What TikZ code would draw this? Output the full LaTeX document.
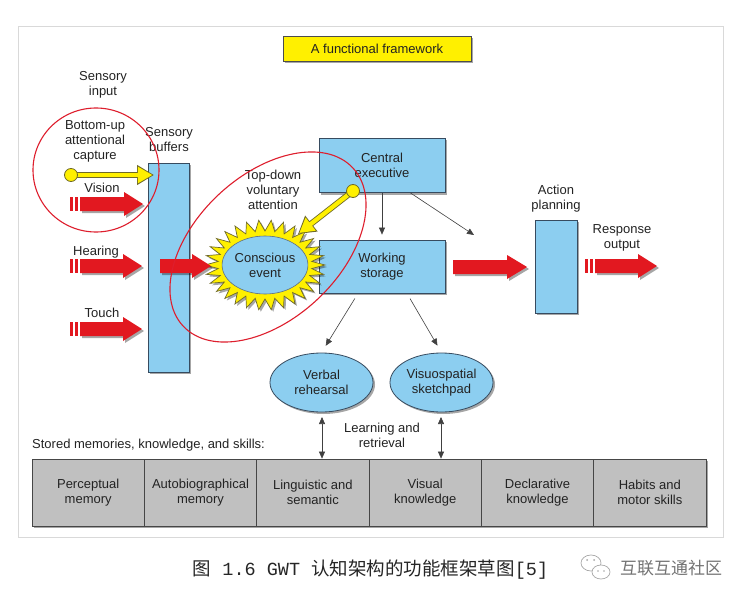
\documentclass[tikz,border=0pt]{standalone}
\usepackage{fontspec}
\setmainfont{Liberation Sans}
\newfontfamily\cjk{Noto Sans CJK SC}
\newfontfamily\latmono{Liberation Mono}
\usetikzlibrary{shapes.geometric,arrows.meta,shadows,calc}
\definecolor{boxblue}{RGB}{140,206,240}
\definecolor{boxline}{RGB}{55,75,95}
\definecolor{txt}{RGB}{35,35,35}
\definecolor{redarr}{RGB}{226,24,32}
\definecolor{ringred}{RGB}{222,30,45}
\definecolor{ylw}{RGB}{255,240,0}
\definecolor{ylwline}{RGB}{110,105,40}
\definecolor{barfill}{RGB}{192,192,192}
\definecolor{barline}{RGB}{70,70,70}
\newcommand\blockarrow[4]{%
  \path[fill=redarr, shade] (#1,#3-7) -- (#2-#4,#3-7) -- (#2-#4,#3-12) -- (#2,#3) -- (#2-#4,#3+12) -- (#2-#4,#3+7) -- (#1,#3+7) -- cycle;}
\newcommand\arrowtail[2]{%
  \fill[redarr] (#1,#2-7) rectangle ++(3,14);
  \fill[redarr] (#1+5,#2-7) rectangle ++(3,14);}
\begin{document}
\begin{tikzpicture}[x=1pt,y=-1pt, font=\fontsize{13}{15}\selectfont, text=txt,
  shade/.style={drop shadow={shadow xshift=2pt,shadow yshift=-2pt,fill=black,opacity=0.35}},
  bluebox/.style={draw=boxline, line width=0.8pt, fill=boxblue, shade, align=center, inner sep=0pt},
  blueell/.style={ellipse, draw=boxline, line width=0.8pt, fill=boxblue, shade, align=center, inner sep=0pt},
  lbl/.style={align=center, inner sep=0pt},
  cell/.style={draw=barline, line width=0.7pt, fill=barfill, align=center, inner sep=0pt, minimum width=112.33pt, minimum height=67pt},
  thinarr/.style={draw=black!75, line width=0.6pt, -{Triangle[length=7pt,width=6pt]}},
  dblarr/.style={draw=black!75, line width=0.6pt, {Triangle[length=7pt,width=6pt]}-{Triangle[length=7pt,width=6pt]}},
  ring/.style={draw=ringred, line width=1.1pt},
  yout/.style={line width=6pt, draw=ylwline, -{Triangle[length=17pt,width=19pt]}},
  yin/.style={line width=4.3pt, draw=ylw, shorten >=1.6pt, -{Triangle[length=14.5pt,width=15.5pt]}},
  ydot/.style={fill=ylw, draw=ylwline, line width=0.8pt}]
\useasboundingbox (0,0) rectangle (748,602);
\fill[white] (0,0) rectangle (748,602);
\draw[black!15, line width=1pt] (18,27) rectangle (723,537);

% title
\node[draw=black!70, line width=0.8pt, fill=ylw, shade, minimum width=188pt, minimum height=25pt, inner sep=0pt] (title) at (377,48.5) {A functional framework};

% labels
\node[lbl] (sensin) at (103,84.5) {Sensory\\input};
\node[lbl] (bottomup) at (95,141) {Bottom-up\\attentional\\capture};
\node[lbl] (sensbuf) at (169,139.5) {Sensory\\buffers};
\node[lbl] (vision) at (102,188) {Vision};
\node[lbl] (hearing) at (96,252) {Hearing};
\node[lbl] (touch) at (102,313) {Touch};
\node[lbl] (topdown) at (273,190) {Top-down\\voluntary\\attention};
\node[lbl] (actplan) at (556,198.5) {Action\\planning};
\node[lbl] (resp) at (622,238) {Response\\output};
\node[lbl] (learn) at (382,435.5) {Learning and\\retrieval};
\node[lbl, anchor=west] (stored) at (32,445) {Stored memories, knowledge, and skills:};

% boxes
\node[bluebox, minimum width=41pt, minimum height=209pt] (buf) at (168.5,267.5) {};
\node[bluebox, minimum width=126pt, minimum height=54pt] (cexec) at (382,165.5) {Central\\executive};
\node[bluebox, minimum width=126pt, minimum height=53pt] (ws) at (382,266.5) {Working\\storage};
\node[bluebox, minimum width=42pt, minimum height=93pt] (ap) at (556,266.5) {};
\node[blueell, minimum width=103pt, minimum height=59pt] (vr) at (321.5,382.5) {Verbal\\rehearsal};
\node[blueell, minimum width=103pt, minimum height=59pt] (vs) at (441.5,382.5) {Visuospatial\\sketchpad};

% starburst + conscious event
\filldraw[fill=ylw, draw=ylwline, line width=0.7pt, shade] (325,265)
  \foreach \i [evaluate=\i as \rx using {60-13*mod(\i,2)}, evaluate=\i as \ry using {45-11*mod(\i,2)}, evaluate=\i as \ang using {\i*6}] in {1,...,59} { -- ({265+\rx*cos(\ang)},{265+\ry*sin(\ang)}) } -- cycle;
\node[ellipse, draw=boxline!80, line width=0.6pt, fill=boxblue, minimum width=80pt, minimum height=58pt, inner sep=0pt, align=center] (ce) at (265,265) {Conscious\\event};

% red block arrows
\arrowtail{70}{204}\blockarrow{80}{143}{204}{19}
\arrowtail{70}{266}\blockarrow{80}{142}{266}{19}
\arrowtail{70}{329}\blockarrow{80}{142}{329}{19}
\blockarrow{160}{211}{266}{19}
\blockarrow{453}{527}{267}{20}
\arrowtail{585}{266}\blockarrow{595}{657}{266}{19}

% yellow attention arrows
\coordinate (y1s) at (71,175);
\coordinate (y1t) at (154,175);
\draw[yout] (y1s) -- (y1t);
\draw[yin] (y1s) -- (y1t);
\filldraw[ydot] (y1s) circle (6.5pt);
\coordinate (y2s) at (353,191);
\coordinate (y2t) at (298,234);
\draw[yout] (y2s) -- (y2t);
\draw[yin] (y2s) -- (y2t);
\filldraw[ydot] (y2s) circle (6.5pt);

% thin arrows
\draw[thinarr, shorten >=5pt] (cexec.south) -- (ws.north);
\coordinate (apin) at (474,235);
\draw[thinarr] ($(cexec.south east)+(-35,0)$) -- (apin);
\draw[thinarr, shorten <=6pt, shorten >=8pt] ($(ws.south)+(-24,0)$) -- (vr.north);
\draw[thinarr, shorten <=6pt, shorten >=8pt] ($(ws.south)+(25,0)$) -- (vs.north);

% rings
\draw[ring] (96,170) ellipse [x radius=63, y radius=62];
\draw[ring, rotate around={43:(268,247)}] (268,247) ellipse [x radius=116, y radius=72];

% memory bar
\fill[black, opacity=0.35] (34,461) rectangle (708,528);
\node[cell] (m1) at (88.17,492.5) {Perceptual\\memory};
\node[cell] (m2) at (200.5,492.5) {Autobiographical\\memory};
\node[cell] (m3) at (312.83,492.5) {Linguistic and\\semantic};
\node[cell] (m4) at (425.17,492.5) {Visual\\knowledge};
\node[cell] (m5) at (537.5,492.5) {Declarative\\knowledge};
\node[cell] (m6) at (649.83,492.5) {Habits and\\motor skills};

% learning arrows
\coordinate (la1) at (322,417);
\coordinate (la2) at (441,417);
\draw[dblarr] (la1) -- (la1 |- m3.north);
\draw[dblarr] (la2) -- (la2 |- m4.north);

% caption
\node[font=\cjk\fontsize{18.5}{20}\selectfont, text=black!85, inner sep=0pt] (cap) at (370.5,570) {图{\latmono\ 1.6 GWT }认知架构的功能框架草图{\latmono[5]}};
\draw[black!35, line width=0.7pt] (591,563) ellipse [x radius=10, y radius=8];
\draw[black!35, line width=0.7pt, fill=white] (601,572) ellipse [x radius=9, y radius=7];
\fill[black!35] (587,560) circle (1pt) (594,560) circle (1pt) (598,571) circle (0.9pt) (604,571) circle (0.9pt);
\node[font=\cjk\fontsize{17}{20}\selectfont, text=black!55, inner sep=0pt] (wm) at (671,568) {互联互通社区};
\end{tikzpicture}
\end{document}
